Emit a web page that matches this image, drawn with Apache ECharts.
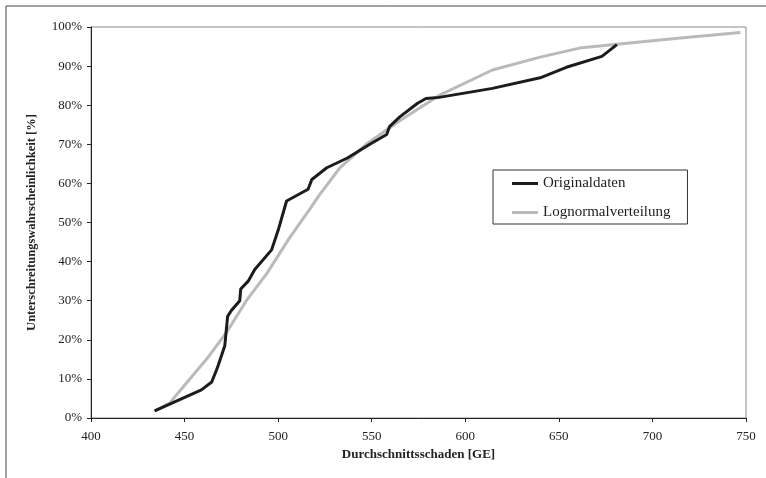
<!DOCTYPE html>
<html>
<head>
<meta charset="utf-8">
<script src="https://cdn.jsdelivr.net/npm/echarts@6/dist/echarts.min.js"></script>
<style>
	html, body { margin: 0; padding: 0; background: #fff; }
	#chart { width: 766px; height: 478px; }
</style>
</head>
<body>
<div id="chart"></div>
<script>
// Originaldaten: Durchschnittsschaden [GE] / Unterschreitungswahrscheinlichkeit [%]
const origX = [434, 459, 464.5, 467, 468, 471.5, 473, 475, 479.5, 480, 484, 487.5, 496.5, 500, 504.5, 516, 518, 526, 537, 549, 558, 559.5, 565, 574.5, 579, 586, 614.5, 640, 654, 673, 681];
const origY = [1.8, 7.2, 9.2, 12.2, 13.5, 18.5, 26, 27.5, 30, 33, 35, 38, 43, 48, 55.5, 58.5, 61, 64, 66.5, 70, 72.5, 74.5, 77, 80.5, 81.7, 82, 84.3, 87, 89.7, 92.5, 95.5];

// Lognormalverteilung
const logX = [434, 442, 449, 462, 473, 483, 494, 506, 517, 522, 533, 547, 565, 586, 614.5, 640, 661, 681, 715, 747];
const logY = [1.8, 3.8, 7.8, 15.2, 22.3, 30, 37, 46, 53.5, 57, 64, 70, 76, 82.5, 89, 92.3, 94.6, 95.6, 97.2, 98.6];

const xTicks = { min: 400, max: 750, step: 50 };
const yTicks = { min: 0, max: 100, step: 10 };

const serif = "Liberation Serif";

function pairs(xs, ys) {
	return xs.map((x, i) => [x, ys[i]]);
}

const chart = echarts.init(document.getElementById("chart"), null, { renderer: "canvas" });

const option = {
	backgroundColor: "#fff",
	animation: false,
	graphic: [
		{
			type: "rect",
			shape: { x: 6, y: 6, width: 820, height: 520 },
			style: { fill: "none", stroke: "#444", lineWidth: 1 },
			silent: true,
		},
	],
	grid: {
		left: 91,
		right: 20,
		top: 27,
		bottom: 60,
		show: true,
		borderColor: "#8a8a8a",
		borderWidth: 1,
	},
	legend: {
		orient: "vertical",
		left: 493,
		top: 170,
		padding: [5, 17, 3, 19],
		itemGap: 12,
		itemWidth: 26,
		itemHeight: 3,
		icon: "rect",
		borderColor: "#333",
		borderWidth: 1,
		textStyle: { fontFamily: serif, fontSize: 15, color: "#222", lineHeight: 17 },
		data: ["Originaldaten", "Lognormalverteilung"],
	},
	xAxis: {
		type: "value",
		min: xTicks.min,
		max: xTicks.max,
		interval: xTicks.step,
		name: "Durchschnittsschaden [GE]",
		nameLocation: "middle",
		nameGap: 26,
		nameTextStyle: { fontFamily: serif, fontSize: 13, fontWeight: "bold", color: "#222" },
		axisLine: { show: true, lineStyle: { color: "#222", width: 1 } },
		axisTick: { show: true, length: 4, lineStyle: { color: "#222" } },
		axisLabel: { fontFamily: serif, fontSize: 13, color: "#222", margin: 12 },
		splitLine: { show: false },
	},
	yAxis: {
		type: "value",
		min: yTicks.min,
		max: yTicks.max,
		interval: yTicks.step,
		name: "Unterschreitungswahrscheinlichkeit [%]",
		nameLocation: "middle",
		nameGap: 53,
		nameTextStyle: { fontFamily: serif, fontSize: 12.5, fontWeight: "bold", color: "#222" },
		axisLine: { show: true, lineStyle: { color: "#222", width: 1 } },
		axisTick: { show: true, length: 4, lineStyle: { color: "#222" } },
		axisLabel: { fontFamily: serif, fontSize: 13, color: "#222", margin: 9, formatter: "{value}%" },
		splitLine: { show: false },
	},
	series: [
		{
			name: "Lognormalverteilung",
			type: "line",
			symbol: "none",
			data: pairs(logX, logY),
			lineStyle: { color: "#bababa", width: 3 },
			itemStyle: { color: "#bababa" },
			z: 2,
		},
		{
			name: "Originaldaten",
			type: "line",
			symbol: "none",
			data: pairs(origX, origY),
			lineStyle: { color: "#1c1c1c", width: 3 },
			itemStyle: { color: "#1c1c1c" },
			z: 3,
		},
	],
};

chart.setOption(option);
</script>
</body>
</html>
